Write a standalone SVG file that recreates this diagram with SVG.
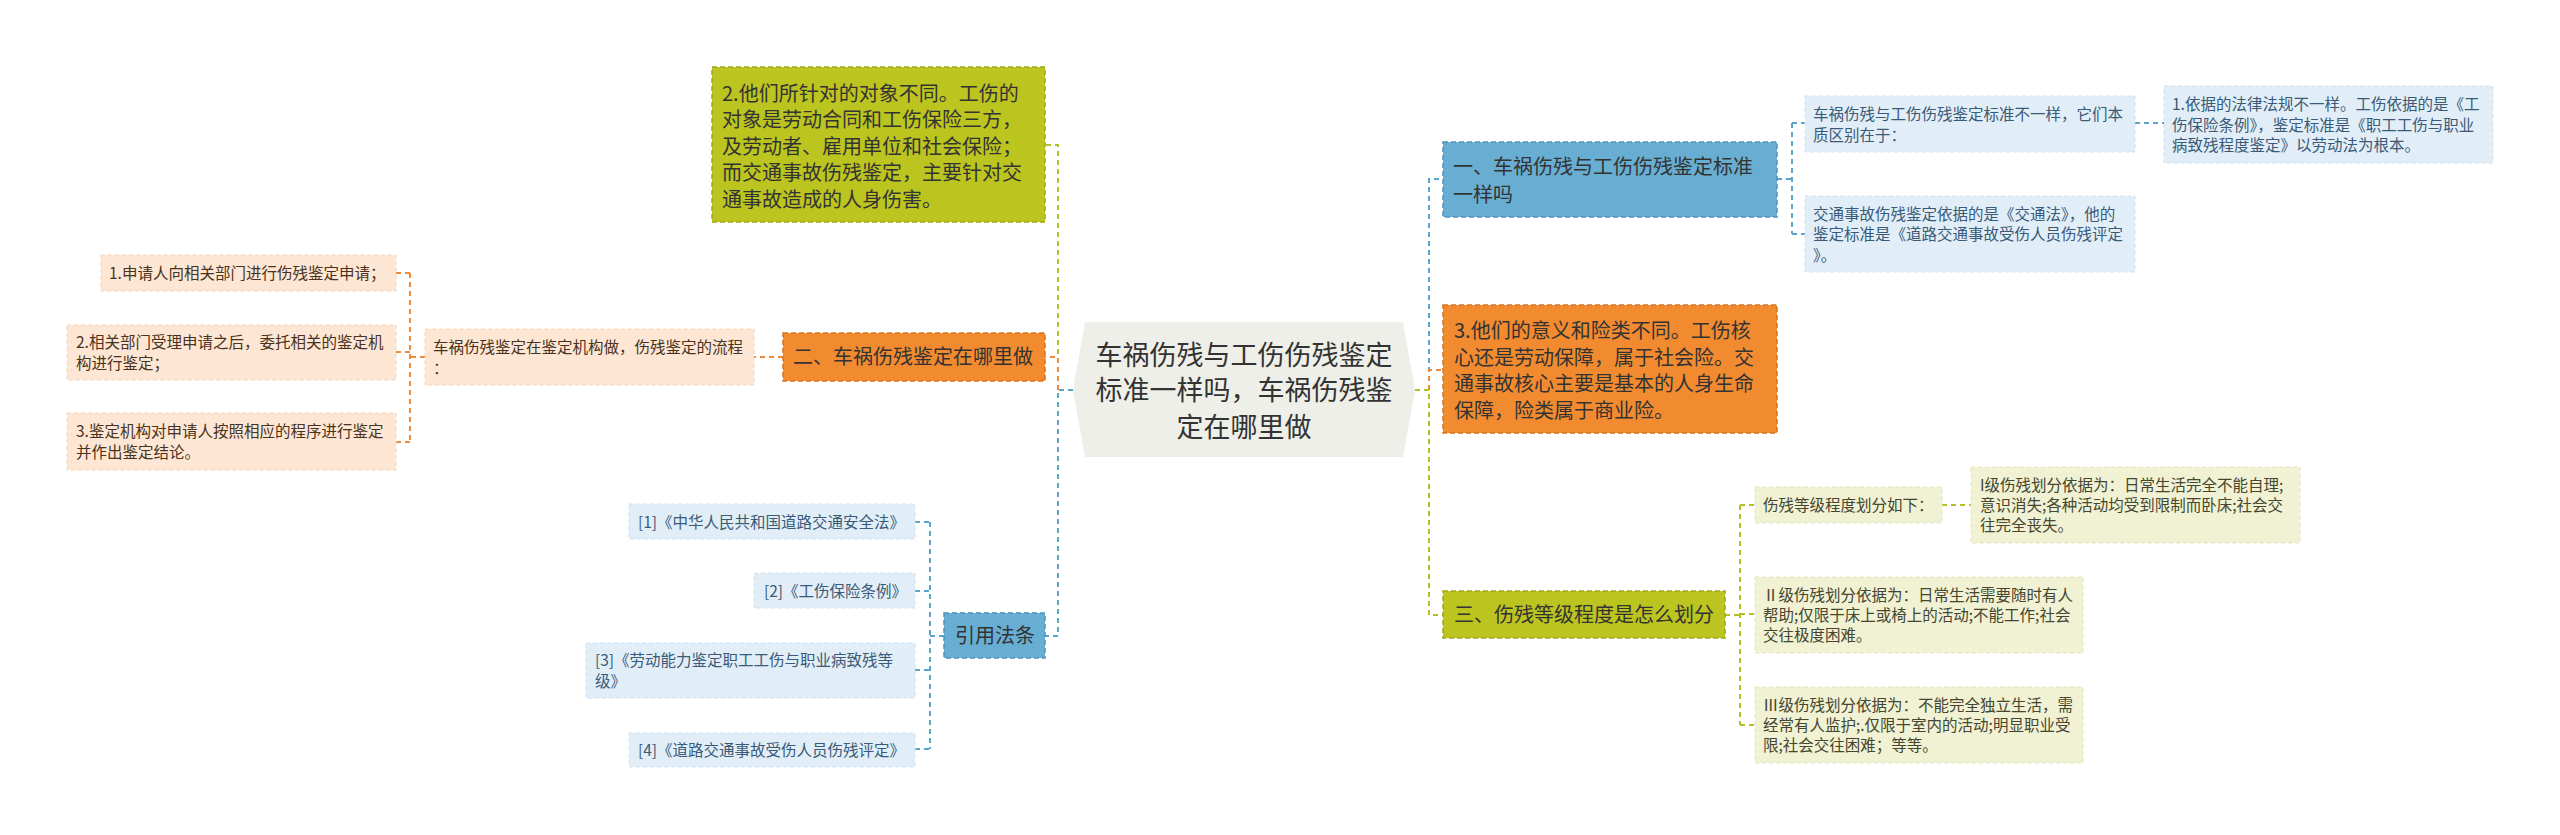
<svg xmlns="http://www.w3.org/2000/svg" width="2560" height="835" viewBox="0 0 2560 835">
<style>
text{font-family:"Noto Sans CJK SC","Noto Sans",sans-serif;}
.c{fill:none;stroke-width:2;stroke-dasharray:5 4;}
.cb{stroke:#5DA4CB;} .co{stroke:#EF8A38;} .cg{stroke:#B3BF24;}
.mb{fill:#68AED3;stroke:#4E93BB;stroke-width:1.5;stroke-dasharray:5 3;}
.mo{fill:#F28B2F;stroke:#D8741E;stroke-width:1.5;stroke-dasharray:5 3;}
.mg{fill:#BCC41F;stroke:#9EA718;stroke-width:1.5;stroke-dasharray:5 3;}
.lb{fill:#E1EEF7;stroke:#D0E3F0;stroke-width:1;stroke-dasharray:4 3;}
.lo{fill:#FDE7D4;stroke:#F6D3B6;stroke-width:1;stroke-dasharray:4 3;}
.lg{fill:#F0F2D3;stroke:#E2E6BA;stroke-width:1;stroke-dasharray:4 3;}
.tm{font-size:20px;fill:#333;}
.tc{font-size:27px;fill:#333;text-anchor:middle;}
.tlb{font-size:15.5px;fill:#3A5A78;}
.tlo{font-size:15.5px;fill:#4A3220;}
.tlg{font-size:15.5px;fill:#454530;}
</style>
<rect x="0" y="0" width="2560" height="835" fill="#FFFFFF"/>
<g id="connectors">
<path class="c cg" d="M1058,390 V145 H1045"/>
<path class="c co" d="M1058,390 V357 H1045"/>
<path class="c cb" d="M1073,390 H1058 V636 H1045"/>
<path class="c cb" d="M1429,390 V179 H1443"/>
<path class="c co" d="M1429,390 V370 H1443"/>
<path class="c cg" d="M1415,390 H1429 V615 H1443"/>
<path class="c co" d="M783,357 H754"/>
<path class="c co" d="M425,357 H410 M410,273 V442 M396,273 H410 M396,352 H410 M396,442 H410"/>
<path class="c cb" d="M944,636 H930 M930,522 V749 M915,522 H930 M915,591 H930 M915,670 H930 M915,749 H930"/>
<path class="c cb" d="M1777,179 H1792 M1792,123 V234 M1792,123 H1805 M1792,234 H1805 M2135,123 H2164"/>
<path class="c cg" d="M1725,615 H1740 M1740,505 V725 M1740,505 H1755 M1740,614 H1755 M1740,725 H1755 M1942,505 H1971"/>
</g>
<g id="center">
<polygon points="1085,322 1403,322 1415,390 1403,457 1085,457 1073,390" fill="#EFEFE9"/>
<text class="tc" x="1244" y="365">车祸伤残与工伤伤残鉴定</text>
<text class="tc" x="1244" y="400">标准一样吗，车祸伤残鉴</text>
<text class="tc" x="1244" y="437">定在哪里做</text>
</g>
<g id="n-top">
<rect class="mg" x="712" y="67" width="333" height="155"/>
<text class="tm" x="722" y="100.5">2.他们所针对的对象不同。工伤的</text>
<text class="tm" x="722" y="127">对象是劳动合同和工伤保险三方，</text>
<text class="tm" x="722" y="153.5">及劳动者、雇用单位和社会保险；</text>
<text class="tm" x="722" y="180">而交通事故伤残鉴定，主要针对交</text>
<text class="tm" x="722" y="206.5">通事故造成的人身伤害。</text>
</g>
<g id="n-two">
<rect class="mo" x="783" y="333" width="262" height="48"/>
<text class="tm" x="793" y="364">二、车祸伤残鉴定在哪里做</text>
</g>
<g id="n-law">
<rect class="mb" x="944" y="613" width="101" height="45"/>
<text class="tm" x="955" y="643">引用法条</text>
</g>
<g id="n-one">
<rect class="mb" x="1443" y="142" width="334" height="75"/>
<text class="tm" x="1453" y="174">一、车祸伤残与工伤伤残鉴定标准</text>
<text class="tm" x="1453" y="202">一样吗</text>
</g>
<g id="n-three-diff">
<rect class="mo" x="1443" y="305" width="334" height="128"/>
<text class="tm" x="1454" y="338">3.他们的意义和险类不同。工伤核</text>
<text class="tm" x="1454" y="364.5">心还是劳动保障，属于社会险。交</text>
<text class="tm" x="1454" y="391">通事故核心主要是基本的人身生命</text>
<text class="tm" x="1454" y="417.5">保障，险类属于商业险。</text>
</g>
<g id="n-three">
<rect class="mg" x="1443" y="591" width="282" height="47"/>
<text class="tm" x="1454" y="622">三、伤残等级程度是怎么划分</text>
</g>
<g id="l-proc">
<rect class="lo" x="425" y="329" width="329" height="56"/>
<text class="tlo" x="433" y="352.5">车祸伤残鉴定在鉴定机构做，伤残鉴定的流程</text>
<text class="tlo" x="433" y="373.5">：</text>
</g>
<g id="l-step1">
<rect class="lo" x="101" y="255" width="295" height="36"/>
<text class="tlo" x="109" y="279">1.申请人向相关部门进行伤残鉴定申请；</text>
</g>
<g id="l-step2">
<rect class="lo" x="67" y="325" width="329" height="55"/>
<text class="tlo" x="76" y="347.5">2.相关部门受理申请之后，委托相关的鉴定机</text>
<text class="tlo" x="76" y="368.5">构进行鉴定；</text>
</g>
<g id="l-step3">
<rect class="lo" x="67" y="413" width="329" height="57"/>
<text class="tlo" x="76" y="436.5">3.鉴定机构对申请人按照相应的程序进行鉴定</text>
<text class="tlo" x="76" y="457.5">并作出鉴定结论。</text>
</g>
<g id="l-ref1">
<rect class="lb" x="629" y="504" width="286" height="35"/>
<text class="tlb" x="638" y="527.5">[1]《中华人民共和国道路交通安全法》</text>
</g>
<g id="l-ref2">
<rect class="lb" x="754" y="573" width="161" height="35"/>
<text class="tlb" x="764" y="596.5">[2]《工伤保险条例》</text>
</g>
<g id="l-ref3">
<rect class="lb" x="586" y="643" width="329" height="55"/>
<text class="tlb" x="595" y="665.5">[3]《劳动能力鉴定职工工伤与职业病致残等</text>
<text class="tlb" x="595" y="686.5">级》</text>
</g>
<g id="l-ref4">
<rect class="lb" x="629" y="733" width="286" height="34"/>
<text class="tlb" x="638" y="755.5">[4]《道路交通事故受伤人员伤残评定》</text>
</g>
<g id="r-diff">
<rect class="lb" x="1805" y="96" width="330" height="56"/>
<text class="tlb" x="1813" y="119.5">车祸伤残与工伤伤残鉴定标准不一样，它们本</text>
<text class="tlb" x="1813" y="140.5">质区别在于：</text>
</g>
<g id="r-basis">
<rect class="lb" x="2164" y="86" width="329" height="77"/>
<text class="tlb" x="2172" y="110">1.依据的法律法规不一样。工伤依据的是《工</text>
<text class="tlb" x="2172" y="130.5">伤保险条例》，鉴定标准是《职工工伤与职业</text>
<text class="tlb" x="2172" y="151">病致残程度鉴定》以劳动法为根本。</text>
</g>
<g id="r-traffic">
<rect class="lb" x="1805" y="196" width="330" height="76"/>
<text class="tlb" x="1813" y="219.5">交通事故伤残鉴定依据的是《交通法》，他的</text>
<text class="tlb" x="1813" y="240">鉴定标准是《道路交通事故受伤人员伤残评定</text>
<text class="tlb" x="1813" y="260.5">》。</text>
</g>
<g id="g-levels">
<rect class="lg" x="1755" y="487" width="187" height="36"/>
<text class="tlg" x="1763" y="510.5">伤残等级程度划分如下：</text>
</g>
<g id="g-level1">
<rect class="lg" x="1971" y="467" width="329" height="76"/>
<text class="tlg" x="1980" y="490.5">I级伤残划分依据为：日常生活完全不能自理;</text>
<text class="tlg" x="1980" y="510.5">意识消失;各种活动均受到限制而卧床;社会交</text>
<text class="tlg" x="1980" y="530.5">往完全丧失。</text>
</g>
<g id="g-level2">
<rect class="lg" x="1755" y="577" width="328" height="76"/>
<text class="tlg" x="1763" y="600.5">Ⅱ级伤残划分依据为：日常生活需要随时有人</text>
<text class="tlg" x="1763" y="620.5">帮助;仅限于床上或椅上的活动;不能工作;社会</text>
<text class="tlg" x="1763" y="640.5">交往极度困难。</text>
</g>
<g id="g-level3">
<rect class="lg" x="1755" y="687" width="328" height="76"/>
<text class="tlg" x="1763" y="710.5">Ⅲ级伤残划分依据为：不能完全独立生活，需</text>
<text class="tlg" x="1763" y="730.5">经常有人监护;.仅限于室内的活动;明显职业受</text>
<text class="tlg" x="1763" y="750.5">限;社会交往困难；等等。</text>
</g>
</svg>
